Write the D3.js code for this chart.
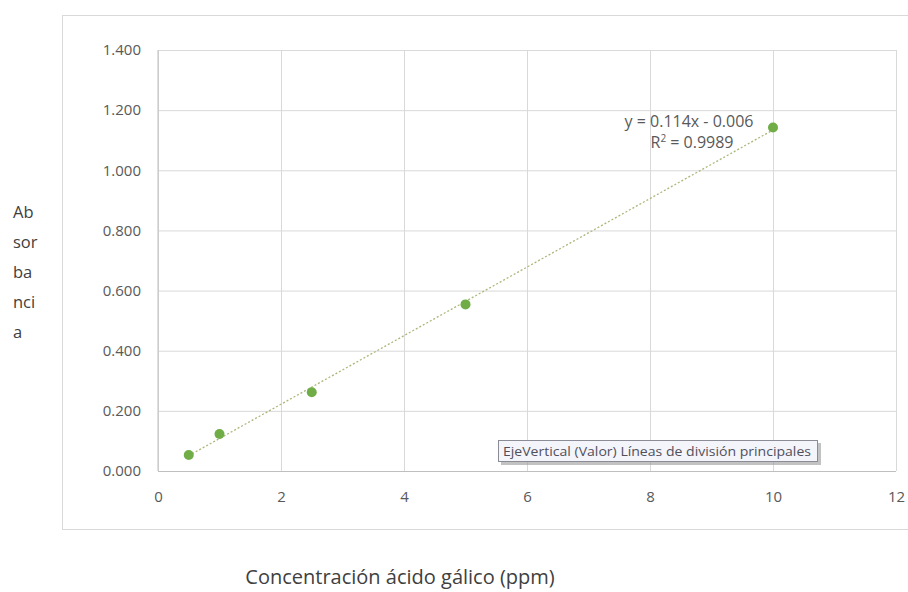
<!DOCTYPE html>
<html><head><meta charset="utf-8">
<script src="https://cdn.jsdelivr.net/npm/d3@7"></script>
<style>body{margin:0;background:#fff;}svg{display:block;font-family:"Open Sans","Noto Sans",sans-serif;}</style>
</head><body>
<svg id="c" width="908" height="592"></svg>
<script>
const xValues = [0.5, 1, 2.5, 5, 10];
const yValues = [0.053, 0.123, 0.262, 0.554, 1.142];
const xTicks = [0, 2, 4, 6, 8, 10, 12];
const yTicks = [0, 0.2, 0.4, 0.6, 0.8, 1.0, 1.2, 1.4];
const slope = 0.114, intercept = -0.006;
const eqLabel = "y = 0.114x - 0.006";
const r2Label = "0.9989";
const xTitle = "Concentración ácido gálico (ppm)";
const yTitleLines = ["Ab", "sor", "ba", "nci", "a"];
const tipText = "EjeVertical (Valor)  Líneas de división principales";

const svg = d3.select("#c");
const x = d3.scaleLinear().domain([0, 12]).range([158, 896]);
const y = d3.scaleLinear().domain([0, 1.4]).range([471, 50]);

// outer chart border
svg.append("rect").attr("x", 62.5).attr("y", 15.5).attr("width", 900).attr("height", 514)
  .attr("fill", "#fff").attr("stroke", "#d9d9d9");

// gridlines
const gx = svg.append("g").attr("transform", "translate(0,471)")
  .call(d3.axisBottom(x).tickValues(xTicks).tickSize(-(471 - 50)).tickFormat(""));
gx.select(".domain").remove();
gx.selectAll("line").attr("stroke", "#d9d9d9");
const gy = svg.append("g").attr("transform", "translate(158,0)")
  .call(d3.axisLeft(y).tickValues(yTicks).tickSize(-(896 - 158)).tickFormat(""));
gy.select(".domain").remove();
gy.selectAll("line").attr("stroke", "#d9d9d9");

// axis lines
svg.append("line").attr("x1", 158).attr("x2", 158).attr("y1", 50).attr("y2", 471).attr("stroke", "#bfbfbf");
svg.append("line").attr("x1", 158).attr("x2", 896).attr("y1", 471.5).attr("y2", 471.5).attr("stroke", "#bfbfbf");

// tick labels
const ax = svg.append("g").attr("transform", "translate(0,471)")
  .call(d3.axisBottom(x).tickValues(xTicks).tickSize(0).tickPadding(20).tickFormat(d3.format("d")));
ax.select(".domain").remove();
ax.selectAll("text").attr("fill", "#595959").style("font-size", "15px").style("font-family", "'Open Sans',sans-serif");
const ay = svg.append("g").attr("transform", "translate(141,0)")
  .call(d3.axisLeft(y).tickValues(yTicks).tickSize(0).tickPadding(0).tickFormat(d3.format(".3f")));
ay.select(".domain").remove();
ay.selectAll("text").attr("fill", "#595959").style("font-size", "15px").style("font-family", "'Open Sans',sans-serif");

// trendline
const tl = d3.line().x(d => x(d)).y(d => y(slope * d + intercept));
svg.append("path").attr("d", tl([d3.min(xValues), d3.max(xValues)]))
  .attr("fill", "none").attr("stroke", "#a9b87a").attr("stroke-width", 1.3).attr("stroke-dasharray", "2,2");

// points
svg.append("g").selectAll("circle").data(xValues).join("circle")
  .attr("cx", d => x(d)).attr("cy", (d, i) => y(yValues[i])).attr("r", 5)
  .attr("fill", "#70ad47");

// equation
const eq = svg.append("g").attr("fill", "#595959").style("font-size", "16px");
eq.append("text").attr("x", 689).attr("y", 127).attr("text-anchor", "middle").text(eqLabel);
const r = eq.append("text").attr("x", 692).attr("y", 148).attr("text-anchor", "middle");
r.append("tspan").text("R");
r.append("tspan").attr("dy", -6).style("font-size", "10px").text("2");
r.append("tspan").attr("dy", 6).text(" = " + r2Label);

// tooltip
svg.append("rect").attr("x", 501).attr("y", 443).attr("width", 320).attr("height", 22).attr("fill", "#9a9a9a").attr("opacity", 0.6);
svg.append("rect").attr("x", 498.5).attr("y", 440.5).attr("width", 319).attr("height", 21).attr("fill", "#f4f4fb").attr("stroke", "#8c8c96");
svg.append("text").attr("x", 503).attr("y", 456).attr("fill", "#50505a").style("font-size", "13.5px")
  .attr("textLength", 308).attr("lengthAdjust", "spacingAndGlyphs").text(tipText);

// axis titles
svg.append("text").attr("x", 400).attr("y", 584).attr("text-anchor", "middle").attr("fill", "#404040")
  .style("font-size", "20px").text(xTitle);
svg.append("g").selectAll("text").data(yTitleLines).join("text")
  .attr("x", 13).attr("y", (d, i) => 218 + i * 30).attr("fill", "#404040").style("font-size", "16.5px").text(d => d);
</script>
</body></html>
